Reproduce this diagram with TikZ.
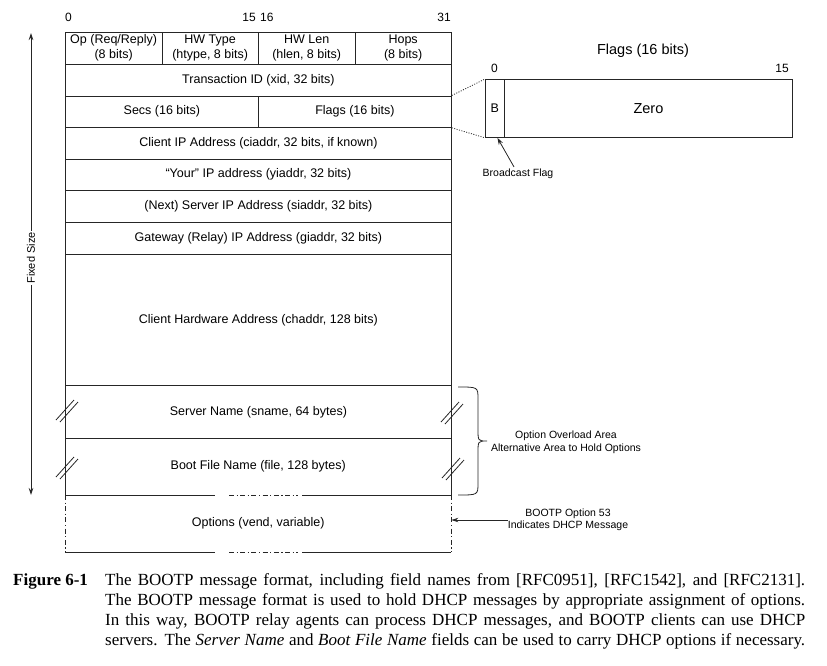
\documentclass[tikz,border=0pt]{standalone}
\usepackage{fontspec}
\setmainfont{Liberation Sans}
\newfontfamily\capfont{Liberation Serif}
\usetikzlibrary{arrows.meta}
\begin{document}
\begin{tikzpicture}[x=1pt,y=-1pt,
  ln/.style={draw=black!85, line width=0.8pt},
  field/.style={ln, anchor=north west, inner sep=0pt, align=center, font=\fontsize{12.5}{15}\selectfont},
  fieldnd/.style={anchor=north west, inner sep=0pt, align=center, font=\fontsize{12.5}{15}\selectfont},
  bitlbl/.style={inner sep=0pt, font=\fontsize{12}{14}\selectfont},
  small/.style={inner sep=0pt, align=center, font=\fontsize{10.5}{13}\selectfont},
  dashdot/.style={dash pattern=on 5pt off 2.5pt on 1.2pt off 2.5pt},
  arr/.style={-{Stealth[length=7pt,width=4.5pt]}},
  capline/.style={anchor=base west, inner sep=0pt, font=\capfont\fontsize{17}{20}\selectfont},
  brk/.pic={\draw[draw=black!85, line width=0.8pt] (-11,9) -- (7,-11); \draw[draw=black!85, line width=0.8pt] (-7,11) -- (11,-9);}
]
\useasboundingbox (0,0) rectangle (827,665);

% bit numbers
\node[bitlbl, anchor=base west] (b0) at (65,21) {0};
\node[bitlbl, anchor=base east] (b15) at (256,21) {15};
\node[bitlbl, anchor=base west] (b16) at (260,21) {16};
\node[bitlbl, anchor=base east] (b31) at (451,21) {31};

% rows
\node[field, minimum width=96.5pt, minimum height=31.5pt] (op) at (65,32) {Op (Req/Reply)\\(8 bits)};
\node[field, minimum width=96.5pt, minimum height=31.5pt] (htype) at (161.5,32) {HW Type\\(htype, 8 bits)};
\node[field, minimum width=96.5pt, minimum height=31.5pt] (hlen) at (258,32) {HW Len\\(hlen, 8 bits)};
\node[field, minimum width=96.5pt, minimum height=31.5pt] (hops) at (354.5,32) {Hops\\(8 bits)};
\node[field, minimum width=386pt, minimum height=32pt] (xid) at (65,63.5) {Transaction ID (xid, 32 bits)};
\node[field, minimum width=193pt, minimum height=31.5pt] (secs) at (65,95.5) {Secs (16 bits)};
\node[field, minimum width=193pt, minimum height=31.5pt] (flags) at (258,95.5) {Flags (16 bits)};
\node[field, minimum width=386pt, minimum height=31.5pt] (ciaddr) at (65,127) {Client IP Address (ciaddr, 32 bits, if known)};
\node[field, minimum width=386pt, minimum height=31.5pt] (yiaddr) at (65,158.5) {“Your” IP address (yiaddr, 32 bits)};
\node[field, minimum width=386pt, minimum height=32pt] (siaddr) at (65,190) {(Next) Server IP Address (siaddr, 32 bits)};
\node[field, minimum width=386pt, minimum height=32pt] (giaddr) at (65,222) {Gateway (Relay) IP Address (giaddr, 32 bits)};
\node[field, minimum width=386pt, minimum height=131pt] (chaddr) at (65,254) {Client Hardware Address (chaddr, 128 bits)};
\node[field, minimum width=386pt, minimum height=53pt] (sname) at (65,385) {Server Name (sname, 64 bytes)};
\node[fieldnd, minimum width=386pt, minimum height=57pt] (file) at (65,438) {Boot File Name (file, 128 bytes)};
\node[fieldnd, minimum width=386pt, minimum height=57pt] (opt) at (65,495) {Options (vend, variable)};

% boot file sides
\draw[ln] (file.north west) -- (file.south west);
\draw[ln] (file.north east) -- (file.south east);
% boundary boot/options
\draw[ln] (file.south west) -- ([xshift=150pt]file.south west);
\draw[ln, dashdot] ([xshift=164pt]file.south west) -- ([xshift=233pt]file.south west);
\draw[ln] ([xshift=237pt]file.south west) -- (file.south east);
% options
\draw[ln, dashdot] (opt.north west) -- (opt.south west);
\draw[ln, dashdot] (opt.north east) -- (opt.south east);
\draw[ln] (opt.south west) -- ([xshift=150pt]opt.south west);
\draw[ln, dashdot] ([xshift=164pt]opt.south west) -- ([xshift=233pt]opt.south west);
\draw[ln] ([xshift=237pt]opt.south west) -- (opt.south east);

% break marks
\pic at (67,411) {brk};
\pic at (67,468) {brk};
\pic at (452,413) {brk};
\pic at (453,469) {brk};

% fixed size
\coordinate (fsT) at (31,33);
\coordinate (fsB) at (31,495);
\draw[ln, {Stealth[length=7pt,width=4.5pt]}-{Stealth[length=7pt,width=4.5pt]}] (fsT) -- node[pos=0.487, fill=white, rotate=90, inner sep=1.5pt, font=\fontsize{11}{13}\selectfont] (fs) {Fixed Size} (fsB);

% flags detail
\node[inner sep=0pt, font=\fontsize{14.5}{17}\selectfont] (ftitle) at (643,51) {Flags (16 bits)};
\node[bitlbl] (fb0) at (494.5,68) {0};
\node[bitlbl] (fb15) at (782,68) {15};
\node[ln, anchor=north west, minimum width=19pt, minimum height=58pt, inner sep=0pt, font=\fontsize{12.5}{15}\selectfont] (bbit) at (485,79) {B};
\node[ln, anchor=north west, minimum width=288pt, minimum height=58pt, inner sep=0pt, font=\fontsize{14.5}{17}\selectfont] (zero) at (504,79) {Zero};
\draw[ln, dash pattern=on 1pt off 1.5pt] (flags.north east) -- (bbit.north west);
\draw[ln, dash pattern=on 1pt off 1.5pt] (flags.south east) -- (bbit.south west);
\node[small, inner sep=2pt] (bcast) at (518,174) {Broadcast Flag};
\draw[ln, arr] ([xshift=-4pt]bcast.north) -- ([xshift=2.5pt]bbit.south);

% brace and overload text
\draw[ln] (458,387) .. controls (478,387) .. (478,399) -- (478,429) .. controls (478,441) .. (487,441)
          .. controls (478,441) .. (478,453) -- (478,483) .. controls (478,495) .. (458,495);
\node[small] (ovl) at (566,442.5) {Option Overload Area\\Alternative Area to Hold Options};

% BOOTP option 53
\node[small, font=\fontsize{10.5}{12}\selectfont] (bootp) at (568,520) {BOOTP Option 53\\Indicates DHCP Message};
\draw[ln, arr] (bootp.west) -- (bootp.west -| opt.east);

% caption
\node[capline] (figlbl) at (13,585) {\bfseries Figure 6-1};
\node[capline] (cap1) at (105,585) {\makebox[700pt][s]{The BOOTP message format, including field names from [RFC0951], [RFC1542], and [RFC2131].}};
\node[capline] (cap2) at (105,605) {\makebox[700pt][s]{The BOOTP message format is used to hold DHCP messages by appropriate assignment of options.}};
\node[capline] (cap3) at (105,625) {\makebox[700pt][s]{In this way, BOOTP relay agents can process DHCP messages, and BOOTP clients can use DHCP}};
\node[capline] (cap4) at (105,645) {\makebox[700pt][s]{servers. The \textit{Server Name} and \textit{Boot File Name} fields can be used to carry DHCP options if necessary.}};
\end{tikzpicture}
\end{document}
